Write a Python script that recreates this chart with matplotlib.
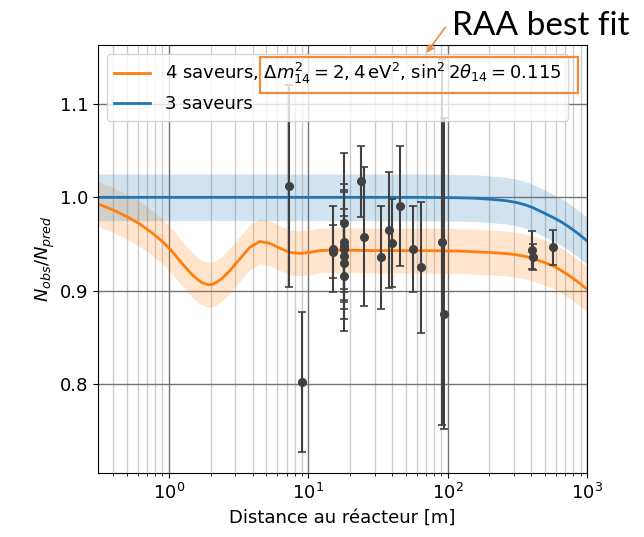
import numpy as np
import matplotlib
matplotlib.use('Agg')
import matplotlib.pyplot as plt
from matplotlib.patches import Rectangle

matplotlib.rc('font', size=13)

# Model curves
L_4fl = [0.31, 0.41, 0.51, 0.62, 0.75, 0.887, 1.045, 1.233, 1.455, 1.6, 1.715, 1.914, 2.05,
         2.197, 2.4, 2.74, 3.23, 3.81, 4.49, 5.30, 6.25, 7.37, 8.69, 10.25, 12.1, 15.0,
         30.0, 63.0, 120.0, 200.0, 260.0, 310.0, 360.0, 409.0, 480.0, 569.0, 650.0, 750.0,
         860.0, 1000.0]
R_4fl = [0.993, 0.9857, 0.9786, 0.9715, 0.9625, 0.9536, 0.943, 0.930, 0.918, 0.9125, 0.909,
         0.9064, 0.9068, 0.909, 0.913, 0.9214, 0.934, 0.9464, 0.9528, 0.9507, 0.9457, 0.941,
         0.940, 0.941, 0.943, 0.9436, 0.943, 0.943, 0.9425, 0.941, 0.9399, 0.9386, 0.9368,
         0.9346, 0.931, 0.9268, 0.922, 0.916, 0.9095, 0.902]
L_3fl = [0.31, 30.0, 63.0, 120.0, 160.0, 200.0, 260.0, 310.0, 360.0, 409.0, 480.0, 569.0,
         650.0, 750.0, 860.0, 1000.0]
R_3fl = [1.0, 1.0, 1.0, 0.9995, 0.999, 0.998, 0.9965, 0.9946, 0.992, 0.989, 0.984, 0.9786,
         0.974, 0.968, 0.9615, 0.9536]
band_4fl = 0.024
band_3fl = 0.025

# Experimental points
L_exp = [7.25, 9.03, 15.0, 15.1, 18.2, 18.2, 18.2, 18.2, 18.2, 18.2, 18.2,
         24.0, 25.1, 33.4, 37.9, 39.8, 45.3, 56.4, 64.7, 91.0, 95.1, 404.0, 413.0, 570.0]
R_exp = [1.0125, 0.802, 0.945, 0.942, 0.973, 0.952, 0.948, 0.945, 0.9375, 0.930, 0.916,
         1.017, 0.958, 0.936, 0.965, 0.951, 0.991, 0.945, 0.925, 0.9525, 0.875, 0.9436, 0.9357, 0.9464]
err_low = [0.108, 0.075, 0.046, 0.028, 0.074, 0.062, 0.060, 0.043, 0.068, 0.050, 0.059,
           0.038, 0.074, 0.055, 0.062, 0.047, 0.064, 0.046, 0.070, 0.196, 0.123, 0.020, 0.014, 0.019]
err_up = [0.108, 0.075, 0.046, 0.028, 0.074, 0.062, 0.060, 0.043, 0.068, 0.050, 0.059,
          0.038, 0.074, 0.055, 0.062, 0.047, 0.064, 0.046, 0.070, 0.196, 0.210, 0.020, 0.014, 0.019]

orange = '#ff7f0e'
blue = '#1f77b4'
note_color = '#f28a3a'

fig = plt.figure(figsize=(6.44, 5.37), dpi=100)
ax = fig.add_axes([0.152, 0.1192, 0.7593, 0.797])

r4 = np.array(R_4fl)
r3 = np.array(R_3fl)
ax.fill_between(L_4fl, r4 - band_4fl, r4 + band_4fl, color=orange, alpha=0.2, lw=0)
ax.fill_between(L_3fl, r3 - band_3fl, r3 + band_3fl, color=blue, alpha=0.2, lw=0)
ax.plot(L_4fl, R_4fl, color=orange, lw=2,
        label='4 saveurs, $\\Delta m^2_{14} = 2,4\\,\\mathrm{eV}^2$, $\\sin^2 2\\theta_{14} = 0.115$')
ax.plot(L_3fl, R_3fl, color=blue, lw=2, label='3 saveurs')

ax.errorbar(L_exp, R_exp, yerr=[err_low, err_up], fmt='o', color='#404040', ms=5.5,
            elinewidth=1.5, capsize=3, capthick=1.2)

ax.set_xscale('log')
ax.set_xlim(0.31, 1000)
ax.set_ylim(0.705, 1.163)
ax.set_yticks([0.8, 0.9, 1.0, 1.1])
ax.grid(True, which='major', color='0.45', lw=1)
ax.grid(True, which='minor', axis='x', color='0.8', lw=1)
ax.set_axisbelow(True)

ax.set_xlabel('Distance au réacteur [m]')
ax.set_ylabel('$N_{obs}/N_{pred}$', labelpad=2)
ax.legend(loc='upper left')

# RAA best fit annotation
fig.add_artist(Rectangle((260 / 644, 1 - 93 / 537), 318 / 644, 36 / 537,
                         transform=fig.transFigure, fill=False, ec=note_color, lw=1.6))
ax.annotate('', xy=(425 / 644, 1 - 55 / 537), xytext=(447 / 644, 1 - 25 / 537),
            xycoords='figure fraction', textcoords='figure fraction',
            arrowprops=dict(arrowstyle='-|>', color=note_color, lw=1.2, mutation_scale=10))
fig.text(452 / 644, 1 - 35 / 537, 'RAA best fit', fontsize=24, family='Lato', va='baseline')

plt.savefig('out.png', dpi=100)
